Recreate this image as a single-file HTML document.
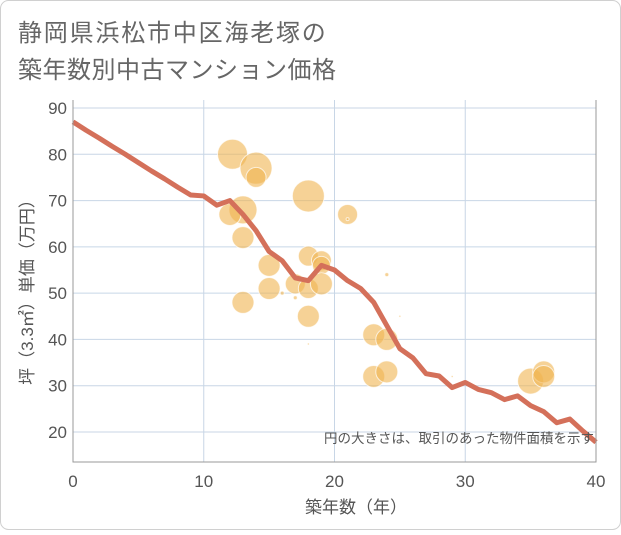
<!DOCTYPE html>
<html><head><meta charset="utf-8"><style>
body{margin:0;background:#fff;}
#wrap{position:relative;width:621px;height:530px;font-family:"Liberation Sans","Noto Sans CJK JP",sans-serif;}
</style></head><body>
<div id="wrap">
<svg id="chart" width="621" height="530" xmlns="http://www.w3.org/2000/svg">
<rect x="0.5" y="0.5" width="620" height="529" rx="8" fill="#fff" stroke="#d0d0d0"/>
<text x="18" y="41" font-size="24" letter-spacing="1.8" fill="#666" font-family="Liberation Sans, Noto Sans CJK JP, sans-serif">静岡県浜松市中区海老塚の</text>
<text x="18" y="78" font-size="24" letter-spacing="0.5" fill="#666" font-family="Liberation Sans, Noto Sans CJK JP, sans-serif">築年数別中古マンション価格</text>
<g id="grid"></g>
<g id="bubbles"></g>
<g id="line"></g>
<g id="axes"></g>
<text x="594" y="443" font-size="13.5" fill="#555" text-anchor="end" font-family="Liberation Sans, Noto Sans CJK JP, sans-serif">円の大きさは、取引のあった物件面積を示す</text>
<text x="356" y="513" font-size="17" fill="#555" text-anchor="middle" font-family="Liberation Sans, Noto Sans CJK JP, sans-serif">築年数（年）</text>
<text transform="translate(33,288) rotate(-90)" font-size="17" fill="#555" text-anchor="middle" font-family="Liberation Sans, Noto Sans CJK JP, sans-serif">坪（3.3㎡）単価（万円）</text>
</svg>
</div>
<script>
const xTicks=[0,10,20,30,40];
const yTicks=[20,30,40,50,60,70,80,90];
const lineYears=[0,1,2,3,4,5,6,7,8,9,10,11,12,13,14,15,16,17,18,19,20,21,22,23,24,25,26,27,28,29,30,31,32,33,34,35,36,37,38,39,40];
const linePrices=[87,85.2,83.5,81.7,80,78.2,76.4,74.7,72.9,71.2,71,69,70,67,63.5,59,57,53.3,52.7,56,55,52.7,51,48,43,38,36,32.6,32.1,29.6,30.7,29.2,28.5,27,27.8,25.7,24.4,22,22.8,20.2,17.8];
const bubbleYears=[12.2,14,14,18,21,13,12,13,15,18,19,19,15,17,18,19,13,18,16,17,18,24,25,29,23,24,23,24,35,36,36,21];
const bubblePrices=[80,77,75,71,67,68,67,62,56,58,57,56,51,52,51,52,48,45,50,49,39,54,45,32,41,40,32,33,31,33,32,66];
const bubbleRadii=[15,16,10,16,10,14,11,11,11,10,10,9,11,10,10,11,11,11,2,2,1,2,1,1,11,11,11,11,13,11,11,1.5];
const NS='http://www.w3.org/2000/svg';
const X0=73,X1=596,Y0=432,Y1=108;
const xs=v=>X0+(v-0)/40*(X1-X0);
const ys=v=>Y0-(v-20)/70*(Y0-Y1);
function mk(tag,attrs,parent){const e=document.createElementNS(NS,tag);for(const k in attrs)e.setAttribute(k,attrs[k]);parent.appendChild(e);return e;}
const grid=document.getElementById('grid'),axes=document.getElementById('axes');
mk('rect',{x:X0,y:100,width:X1-X0,height:362,fill:'#fff'},grid);
xTicks.forEach(t=>{
 const l=mk('line',{x1:xs(t),x2:xs(t),y1:100,y2:462,stroke:'#c8d6e6','stroke-width':1},grid);
 
 
 const tx=mk('text',{x:xs(t),y:487,'font-size':17,fill:'#555','text-anchor':'middle'},axes);
 tx.textContent=t;
 
 
});
yTicks.forEach(t=>{
 const l=mk('line',{x1:X0,x2:X1,y1:ys(t),y2:ys(t),stroke:'#c8d6e6','stroke-width':1},grid);
 
 
 const tx=mk('text',{x:67,y:ys(t)+6,'font-size':17,fill:'#555','text-anchor':'end'},axes);
 tx.textContent=t;
 
 
});
const ax=mk('path',{d:`M${X0},100 V462 H${X1} V100`,fill:'none',stroke:'#999','stroke-width':1},axes);


const bg=document.getElementById('bubbles');
bubbleYears.forEach((yr,i)=>{
 const c=mk('circle',{cx:xs(yr),cy:ys(bubblePrices[i]),r:bubbleRadii[i],fill:'rgba(240,180,80,0.6)',stroke:'rgba(255,255,255,0.7)','stroke-width':1},bg);
 
 
});
const pts=lineYears.map((y,i)=>xs(y)+','+ys(linePrices[i])).join(' ');
const pl=mk('polyline',{points:pts,fill:'none',stroke:'#d4705a','stroke-width':5,'stroke-linejoin':'round'},document.getElementById('line'));


</script>
</body></html>
